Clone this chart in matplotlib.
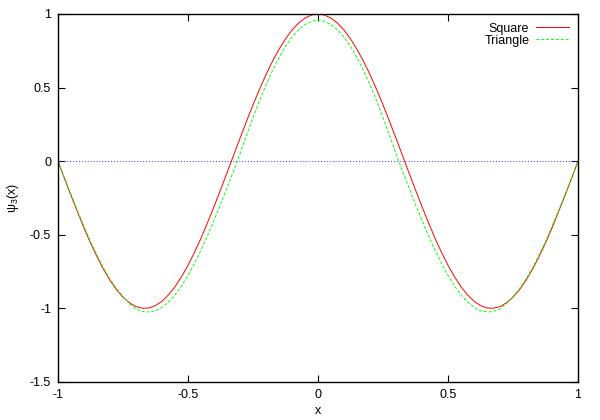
import matplotlib
matplotlib.use("Agg")
import matplotlib.pyplot as plt

plt.rcParams['font.family'] = ['Liberation Sans', 'DejaVu Sans']
plt.rcParams['mathtext.default'] = 'regular'

# values, x from -1 to 1 in steps of 0.025
x = [-1.0, -0.975, -0.95, -0.925, -0.9, -0.875, -0.85, -0.825, -0.8, -0.775,
     -0.75, -0.725, -0.7, -0.675, -0.65, -0.625, -0.6, -0.575, -0.55, -0.525,
     -0.5, -0.475, -0.45, -0.425, -0.4, -0.375, -0.35, -0.325, -0.3, -0.275,
     -0.25, -0.225, -0.2, -0.175, -0.15, -0.125, -0.1, -0.075, -0.05, -0.025,
     0.0,
     0.025, 0.05, 0.075, 0.1, 0.125, 0.15, 0.175, 0.2, 0.225, 0.25,
     0.275, 0.3, 0.325, 0.35, 0.375, 0.4, 0.425, 0.45, 0.475, 0.5,
     0.525, 0.55, 0.575, 0.6, 0.625, 0.65, 0.675, 0.7, 0.725, 0.75,
     0.775, 0.8, 0.825, 0.85, 0.875, 0.9, 0.925, 0.95, 0.975, 1.0]

square = [0.0, -0.118, -0.233, -0.344, -0.454, -0.556, -0.649, -0.734, -0.809, -0.873,
          -0.924, -0.962, -0.988, -0.999, -0.997, -0.981, -0.951, -0.908, -0.853, -0.785,
          -0.707, -0.619, -0.523, -0.418, -0.309, -0.195, -0.079, 0.039, 0.156, 0.271,
          0.383, 0.489, 0.588, 0.679, 0.760, 0.831, 0.891, 0.938, 0.972, 0.993,
          1.0,
          0.993, 0.972, 0.938, 0.891, 0.831, 0.760, 0.679, 0.588, 0.489, 0.383,
          0.271, 0.156, 0.039, -0.079, -0.195, -0.309, -0.418, -0.523, -0.619, -0.707,
          -0.785, -0.853, -0.908, -0.951, -0.981, -0.997, -0.999, -0.988, -0.962, -0.924,
          -0.873, -0.809, -0.734, -0.649, -0.556, -0.454, -0.344, -0.233, -0.118, 0.0]

triangle = [0.0, -0.114, -0.226, -0.336, -0.442, -0.545, -0.637, -0.725, -0.800, -0.865,
            -0.920, -0.968, -1.003, -1.021, -1.024, -1.016, -0.992, -0.956, -0.908, -0.848,
            -0.776, -0.694, -0.604, -0.506, -0.402, -0.293, -0.181, -0.068, 0.050, 0.176,
            0.296, 0.411, 0.518, 0.616, 0.703, 0.780, 0.843, 0.893, 0.929, 0.950,
            0.958,
            0.950, 0.929, 0.893, 0.843, 0.780, 0.703, 0.616, 0.518, 0.411, 0.296,
            0.176, 0.050, -0.068, -0.181, -0.293, -0.402, -0.506, -0.604, -0.694, -0.776,
            -0.848, -0.908, -0.956, -0.992, -1.016, -1.024, -1.021, -1.003, -0.968, -0.920,
            -0.865, -0.800, -0.725, -0.637, -0.545, -0.442, -0.336, -0.226, -0.114, 0.0]

xticks = [-1, -0.5, 0, 0.5, 1]
yticks = [-1.5, -1, -0.5, 0, 0.5, 1]

fig = plt.figure(figsize=(6, 4.2), dpi=100)
ax = fig.add_axes([58/600, 38/420, 520/600, 368/420])

ax.axhline(0, color='#3030ff', linestyle=(0, (1, 2)), linewidth=0.7)
ax.plot(x, square, color='#ff0000', linewidth=0.7, label='Square')
ax.plot(x, triangle, color='#00ff00', linewidth=0.7, linestyle=(0, (3, 2)), label='Triangle')

ax.set_xlim(-1, 1)
ax.set_ylim(-1.5, 1)
ax.set_xticks(xticks)
ax.set_xticklabels(['-1', '-0.5', '0', '0.5', '1'])
ax.set_yticks(yticks)
ax.set_yticklabels(['-1.5', '-1', '-0.5', '0', '0.5', '1'])
ax.tick_params(direction='in', top=True, right=True, length=5, width=0.8, labelsize=9, pad=5)
for s in ax.spines.values():
    s.set_linewidth(1)

ax.set_xlabel('x', fontsize=9, labelpad=3)
ax.set_ylabel('\u03c8$_3$(x)', fontsize=9, labelpad=6)

ax.legend(loc='upper right', frameon=False, fontsize=9, markerfirst=False,
          handlelength=2.7, handletextpad=0.5, borderaxespad=0.3, labelspacing=0.0)

fig.savefig('out.png', dpi=100)
